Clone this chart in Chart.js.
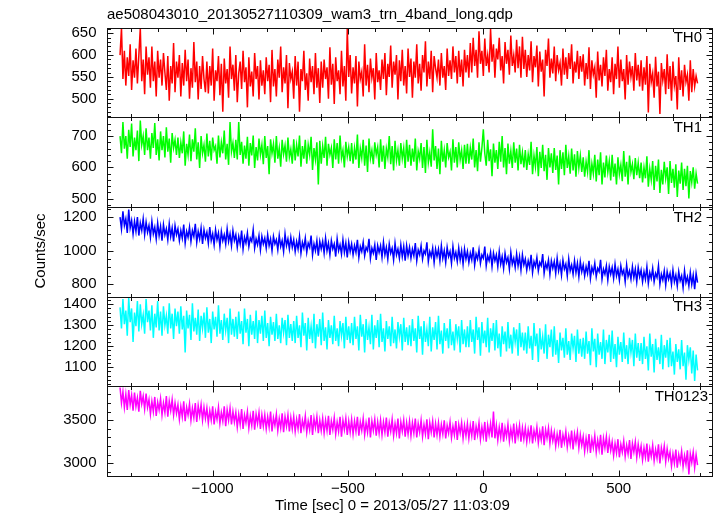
<!DOCTYPE html>
<html>
<head>
<meta charset="utf-8">
<style>
  html, body { margin: 0; padding: 0; background: #fff; }
</style>
<script src="https://cdn.jsdelivr.net/npm/chart.js@4.4.1/dist/chart.umd.min.js"></script>
</head>
<body>
<canvas id="lc" width="717" height="516"></canvas>
<script>
// light curve bins: first bin time and bin width (sec)
const T_START = -1342;
const BIN = 5.347;

const th0 = [
  600, 662, 545, 610, 530, 595, 552, 625, 520, 588, 548, 615, 535, 600, 662, 540, 590, 510, 620, 555,
  595, 525, 620, 540, 585, 505, 610, 548, 590, 530, 605, 560, 520, 598, 495, 575, 535, 628, 515, 585,
  548, 600, 505, 582, 530, 612, 540, 590, 500, 570, 525, 630, 538, 585, 498, 575, 522, 598, 545, 515,
  585, 512, 575, 530, 615, 495, 565, 540, 598, 508, 580, 470, 592, 535, 568, 502, 620, 545, 578, 518,
  600, 492, 558, 585, 522, 610, 538, 572, 480, 595, 528, 562, 505, 605, 545, 575, 498, 588, 530, 565,
  510, 595, 540, 578, 492, 612, 528, 568, 505, 590, 548, 620, 515, 572, 535, 600, 478, 582, 545, 562,
  500, 598, 530, 585, 470, 568, 540, 610, 520, 558, 495, 592, 538, 575, 510, 605, 525, 570, 490, 585,
  525, 590, 545, 572, 500, 618, 532, 580, 488, 595, 540, 565, 510, 610, 528, 575, 495, 660, 550, 600,
  512, 572, 535, 598, 482, 585, 545, 562, 505, 625, 530, 578, 515, 592, 548, 570, 498, 605, 538, 565,
  520, 590, 545, 605, 508, 580, 550, 622, 525, 585, 555, 600, 498, 588, 540, 612, 530, 575, 512, 615,
  550, 592, 502, 585, 548, 625, 535, 580, 518, 600, 560, 632, 528, 585, 545, 610, 515, 598, 570, 548,
  590, 530, 605, 548, 575, 520, 615, 552, 588, 545, 620, 560, 598, 535, 610, 550, 590, 528, 612, 560,
  600, 548, 628, 560, 640, 575, 612, 548, 655, 580, 610, 552, 638, 575, 600, 560, 660, 585, 625, 548,
  615, 590, 640, 565, 598, 535, 630, 580, 612, 555, 645, 575, 600, 560, 635, 570, 620, 548, 642, 568,
  612, 550, 600, 565, 632, 538, 598, 572, 622, 528, 608, 562, 590, 505, 612, 575, 638, 548, 592, 558,
  620, 540, 600, 565, 582, 530, 615, 555, 595, 545, 605, 568, 625, 535, 585, 560, 610, 545, 598, 562,
  602, 530, 582, 545, 618, 522, 588, 555, 572, 502, 608, 542, 578, 528, 595, 552, 612, 518, 568, 538,
  595, 510, 580, 545, 620, 525, 590, 540, 568, 498, 600, 532, 585, 550, 575, 518, 605, 542, 578, 528,
  588, 518, 572, 532, 598, 468, 580, 538, 558, 502, 596, 528, 562, 465, 582, 542, 568, 510, 602, 522,
  575, 495, 585, 530, 552, 475, 595, 520, 565, 505, 578, 538, 555, 495, 588, 515, 568, 528, 552, 535
];
const th1 = [
  700, 645, 745, 660, 700, 628, 720, 665, 740, 635, 695, 655, 718, 620, 750, 672, 700, 640, 725, 655,
  695, 628, 710, 662, 742, 640, 690, 622, 715, 655, 700, 632, 728, 650, 692, 615, 710, 662, 688, 640,
  695, 630, 680, 645, 715, 605, 675, 640, 705, 620, 690, 650, 725, 625, 680, 598, 700, 645, 672, 618,
  708, 635, 685, 622, 695, 655, 668, 612, 702, 632, 680, 645, 718, 625, 675, 608, 745, 650, 678, 630,
  688, 625, 745, 640, 682, 612, 670, 628, 698, 605, 678, 638, 702, 598, 665, 622, 692, 640, 672, 610,
  700, 630, 668, 578, 690, 645, 675, 615, 700, 628, 662, 602, 688, 642, 670, 618, 695, 632, 658, 612,
  690, 622, 672, 635, 702, 602, 668, 628, 688, 612, 672, 640, 698, 592, 662, 625, 680, 545, 685, 612,
  668, 630, 698, 605, 675, 640, 662, 598, 690, 625, 678, 612, 702, 630, 655, 600, 682, 635, 665, 620,
  678, 612, 662, 625, 705, 598, 660, 630, 688, 605, 670, 585, 692, 628, 655, 610, 680, 640, 665, 600,
  690, 618, 670, 595, 660, 632, 700, 610, 668, 590, 685, 622, 655, 605, 678, 628, 662, 598, 688, 618,
  672, 605, 660, 618, 692, 590, 652, 628, 678, 598, 665, 582, 688, 615, 648, 602, 722, 622, 668, 595,
  660, 578, 685, 618, 655, 600, 678, 632, 650, 590, 690, 615, 665, 600, 680, 625, 655, 595, 672, 612,
  675, 612, 662, 625, 692, 600, 655, 588, 680, 618, 662, 722, 645, 605, 688, 620, 658, 572, 676, 615,
  655, 595, 682, 618, 700, 600, 662, 578, 676, 612, 652, 598, 680, 615, 660, 590, 672, 610, 648, 600,
  655, 592, 642, 608, 682, 578, 638, 602, 665, 572, 650, 598, 672, 588, 640, 560, 662, 600, 645, 582,
  662, 592, 638, 545, 655, 595, 648, 575, 672, 598, 636, 580, 660, 590, 642, 570, 652, 598, 638, 585,
  632, 570, 618, 585, 655, 560, 612, 580, 640, 555, 625, 575, 648, 545, 615, 568, 638, 585, 620, 558,
  640, 570, 612, 545, 632, 578, 608, 556, 652, 570, 618, 545, 638, 585, 610, 562, 630, 575, 615, 565,
  615, 552, 600, 565, 635, 538, 595, 560, 620, 528, 605, 555, 625, 518, 592, 545, 618, 565, 600, 515,
  620, 550, 595, 535, 610, 505, 590, 548, 615, 528, 595, 540, 605, 500, 588, 552, 600, 532, 580, 548
];
const th2 = [
  1200, 1130, 1235, 1150, 1190, 1105, 1245, 1135, 1180, 1100, 1175, 1115, 1200, 1090, 1165, 1120, 1190, 1095, 1170, 1110,
  1150, 1080, 1175, 1100, 1140, 1070, 1165, 1090, 1145, 1060, 1155, 1095, 1130, 1065, 1160, 1085, 1135, 1055, 1150, 1095,
  1130, 1060, 1120, 1075, 1155, 1045, 1115, 1080, 1140, 1055, 1120, 1085, 1160, 1050, 1115, 1070, 1135, 1040, 1125, 1075,
  1110, 1045, 1140, 1060, 1100, 1035, 1125, 1065, 1105, 1025, 1115, 1060, 1095, 1040, 1130, 1055, 1100, 1030, 1120, 1060,
  1095, 1020, 1085, 1040, 1120, 1010, 1080, 1045, 1105, 1025, 1075, 1055, 1125, 1015, 1070, 1035, 1090, 1005, 1085, 1040,
  1075, 1015, 1095, 1030, 1070, 1000, 1085, 1040, 1065, 1005, 1090, 1025, 1060, 995, 1100, 1030, 1070, 1010, 1080, 1020,
  1065, 995, 1055, 1010, 1085, 985, 1050, 1015, 1075, 990, 1045, 1020, 1090, 975, 1040, 1000, 1060, 970, 1055, 1010,
  1055, 985, 1075, 1000, 1045, 975, 1060, 1010, 1040, 965, 1070, 1000, 1035, 980, 1065, 990, 1045, 960, 1050, 995,
  1040, 975, 1030, 990, 1065, 960, 1025, 995, 1050, 970, 1020, 1000, 1070, 955, 1015, 985, 1035, 945, 1030, 990,
  1030, 960, 1050, 975, 1020, 950, 1040, 985, 1015, 945, 1045, 975, 1010, 955, 1035, 965, 1025, 940, 1030, 970,
  1020, 955, 1010, 970, 1045, 940, 1005, 975, 1030, 950, 1000, 980, 1050, 935, 995, 965, 1015, 930, 1010, 965,
  1010, 940, 1030, 955, 1000, 930, 1020, 965, 995, 925, 1025, 955, 990, 935, 1015, 945, 1000, 920, 1010, 950,
  995, 930, 985, 945, 1020, 915, 980, 950, 1005, 925, 975, 955, 1025, 910, 970, 940, 990, 905, 985, 940,
  975, 905, 995, 920, 965, 895, 985, 930, 960, 890, 990, 920, 955, 900, 980, 910, 965, 885, 975, 915,
  950, 885, 940, 900, 975, 870, 935, 905, 960, 880, 930, 910, 980, 865, 925, 895, 945, 860, 940, 895,
  935, 865, 955, 880, 925, 855, 945, 890, 920, 850, 950, 880, 915, 860, 940, 870, 925, 845, 935, 875,
  915, 850, 905, 865, 940, 835, 900, 870, 925, 845, 895, 875, 945, 830, 890, 860, 910, 825, 905, 860,
  900, 835, 920, 850, 890, 825, 910, 860, 885, 815, 915, 845, 880, 830, 905, 840, 890, 815, 900, 845,
  885, 815, 875, 830, 905, 805, 870, 835, 895, 815, 865, 840, 910, 800, 860, 825, 880, 795, 875, 830,
  865, 800, 885, 815, 855, 790, 875, 820, 850, 780, 880, 810, 845, 790, 870, 800, 855, 770, 865, 810
];
const th3 = [
  1385, 1285, 1425, 1305, 1370, 1250, 1430, 1315, 1380, 1220, 1360, 1295, 1415, 1270, 1400, 1305, 1350, 1260, 1425, 1315,
  1370, 1275, 1395, 1240, 1355, 1290, 1415, 1275, 1365, 1250, 1390, 1300, 1345, 1260, 1405, 1285, 1355, 1235, 1380, 1295,
  1365, 1260, 1390, 1280, 1345, 1170, 1370, 1285, 1350, 1230, 1405, 1270, 1335, 1255, 1375, 1225, 1345, 1285, 1360, 1240,
  1385, 1265, 1330, 1215, 1365, 1280, 1340, 1245, 1395, 1260, 1325, 1230, 1355, 1275, 1335, 1215, 1380, 1255, 1330, 1245,
  1340, 1235, 1365, 1260, 1320, 1210, 1380, 1265, 1330, 1200, 1350, 1255, 1320, 1235, 1370, 1215, 1325, 1260, 1345, 1225,
  1370, 1240, 1310, 1200, 1340, 1255, 1315, 1225, 1355, 1235, 1300, 1215, 1335, 1265, 1325, 1205, 1350, 1240, 1305, 1225,
  1320, 1215, 1345, 1240, 1300, 1195, 1360, 1250, 1310, 1180, 1335, 1235, 1295, 1215, 1355, 1190, 1305, 1245, 1330, 1205,
  1360, 1225, 1290, 1185, 1325, 1240, 1300, 1210, 1345, 1225, 1285, 1200, 1320, 1250, 1310, 1190, 1340, 1230, 1295, 1215,
  1310, 1205, 1340, 1235, 1295, 1180, 1350, 1245, 1305, 1170, 1330, 1230, 1290, 1210, 1350, 1185, 1300, 1240, 1325, 1195,
  1355, 1220, 1285, 1175, 1320, 1235, 1295, 1200, 1340, 1215, 1280, 1190, 1315, 1245, 1305, 1180, 1335, 1220, 1290, 1205,
  1300, 1200, 1330, 1225, 1285, 1170, 1345, 1235, 1295, 1160, 1320, 1220, 1280, 1200, 1340, 1175, 1290, 1230, 1315, 1185,
  1345, 1210, 1275, 1165, 1310, 1225, 1285, 1190, 1330, 1205, 1270, 1180, 1305, 1235, 1295, 1170, 1325, 1210, 1280, 1195,
  1295, 1195, 1325, 1220, 1280, 1165, 1340, 1230, 1290, 1155, 1315, 1215, 1275, 1195, 1335, 1170, 1285, 1225, 1310, 1180,
  1325, 1190, 1260, 1150, 1295, 1210, 1270, 1175, 1315, 1190, 1255, 1165, 1290, 1220, 1280, 1155, 1310, 1195, 1265, 1180,
  1265, 1165, 1295, 1190, 1250, 1135, 1310, 1200, 1260, 1125, 1285, 1185, 1245, 1165, 1305, 1140, 1255, 1195, 1280, 1150,
  1295, 1160, 1230, 1120, 1265, 1180, 1240, 1145, 1285, 1160, 1225, 1135, 1260, 1190, 1250, 1125, 1280, 1165, 1235, 1150,
  1240, 1140, 1270, 1165, 1225, 1110, 1285, 1175, 1235, 1100, 1260, 1160, 1220, 1140, 1280, 1115, 1230, 1170, 1255, 1125,
  1275, 1140, 1210, 1100, 1245, 1160, 1220, 1125, 1265, 1140, 1205, 1115, 1240, 1170, 1230, 1105, 1260, 1145, 1215, 1130,
  1215, 1115, 1245, 1140, 1200, 1085, 1260, 1150, 1210, 1075, 1235, 1135, 1195, 1115, 1255, 1090, 1205, 1145, 1230, 1100,
  1240, 1105, 1175, 1065, 1210, 1125, 1185, 1090, 1230, 1105, 1170, 1040, 1205, 1135, 1195, 1070, 1180, 1035, 1160, 1085
];
const th0123 = [
  3880, 3700, 3830, 3650, 3800, 3620, 3850, 3680, 3790, 3610, 3820, 3660, 3760, 3600, 3840, 3690, 3780, 3630, 3810, 3650,
  3740, 3570, 3720, 3600, 3770, 3550, 3710, 3620, 3750, 3560, 3700, 3590, 3780, 3540, 3720, 3610, 3740, 3560, 3700, 3580,
  3680, 3510, 3660, 3540, 3720, 3490, 3650, 3560, 3690, 3500, 3640, 3530, 3700, 3480, 3670, 3550, 3680, 3500, 3650, 3520,
  3640, 3470, 3610, 3500, 3660, 3450, 3600, 3510, 3650, 3460, 3590, 3490, 3660, 3430, 3620, 3500, 3640, 3450, 3600, 3480,
  3590, 3420, 3570, 3450, 3630, 3400, 3560, 3470, 3600, 3410, 3550, 3440, 3610, 3390, 3570, 3460, 3590, 3400, 3560, 3430,
  3560, 3400, 3540, 3420, 3600, 3370, 3530, 3440, 3570, 3380, 3520, 3410, 3580, 3360, 3540, 3430, 3560, 3370, 3530, 3400,
  3540, 3370, 3510, 3400, 3570, 3350, 3500, 3410, 3550, 3360, 3490, 3390, 3560, 3330, 3520, 3410, 3540, 3350, 3500, 3380,
  3520, 3350, 3500, 3380, 3550, 3330, 3490, 3390, 3530, 3340, 3480, 3370, 3540, 3310, 3500, 3390, 3520, 3330, 3490, 3360,
  3510, 3340, 3490, 3370, 3540, 3320, 3480, 3380, 3520, 3330, 3470, 3360, 3530, 3300, 3490, 3380, 3510, 3320, 3480, 3350,
  3500, 3330, 3480, 3360, 3530, 3310, 3470, 3370, 3510, 3320, 3460, 3350, 3520, 3290, 3480, 3370, 3500, 3310, 3470, 3340,
  3490, 3320, 3470, 3350, 3520, 3300, 3460, 3360, 3500, 3310, 3450, 3340, 3510, 3280, 3470, 3360, 3490, 3300, 3460, 3330,
  3470, 3310, 3450, 3340, 3500, 3290, 3440, 3350, 3480, 3300, 3430, 3330, 3490, 3270, 3450, 3350, 3470, 3290, 3440, 3320,
  3460, 3290, 3440, 3320, 3490, 3270, 3430, 3330, 3470, 3280, 3420, 3310, 3480, 3250, 3440, 3330, 3460, 3300, 3600, 3290,
  3440, 3270, 3420, 3300, 3470, 3250, 3410, 3310, 3450, 3260, 3400, 3290, 3460, 3230, 3420, 3310, 3440, 3250, 3410, 3280,
  3410, 3250, 3390, 3280, 3440, 3230, 3380, 3290, 3420, 3240, 3370, 3270, 3430, 3210, 3390, 3290, 3410, 3230, 3380, 3260,
  3360, 3200, 3340, 3230, 3390, 3180, 3330, 3240, 3370, 3190, 3320, 3220, 3380, 3160, 3340, 3240, 3360, 3180, 3330, 3210,
  3310, 3140, 3290, 3170, 3340, 3120, 3280, 3180, 3320, 3130, 3270, 3160, 3330, 3100, 3290, 3180, 3310, 3120, 3280, 3150,
  3250, 3090, 3230, 3120, 3280, 3070, 3220, 3130, 3260, 3080, 3210, 3110, 3270, 3050, 3230, 3130, 3250, 3070, 3220, 3100,
  3200, 3040, 3180, 3070, 3230, 3020, 3170, 3080, 3210, 3030, 3160, 3060, 3220, 3000, 3180, 3080, 3200, 3020, 3170, 3050,
  3130, 2970, 3110, 3000, 3160, 2950, 3100, 3010, 3140, 2960, 3090, 2990, 3150, 2870, 3110, 3010, 3130, 2950, 3100, 2980
];

const PANELS = ["TH0", "TH1", "TH2", "TH3", "TH0123"];
const SERIES = [th0, th1, th2, th3, th0123];
const COLORS = ["#ff0000", "#00ff00", "#0000ff", "#00ffff", "#ff00ff"];
const Y_MIN = [457, 473, 726, 1009, 2853];
const Y_MAX = [663, 760, 1260, 1436, 3893];
const Y_TICKS = [
  [500, 550, 600, 650],
  [500, 600, 700],
  [800, 1000, 1200],
  [1100, 1200, 1300, 1400],
  [3000, 3500]
];
const Y_STEP = [50, 100, 200, 100, 500];
const Y_MINOR = [10, 20, 50, 20, 100];
const X_MIN = -1392, X_MAX = 843;
const X_TICKS = [-1000, -500, 0, 500];
const X_STEP = 500, X_MINOR = 100;

const TITLE = "ae508043010_20130527110309_wam3_trn_4band_long.qdp";
const X_TITLE = "Time [sec] 0 = 2013/05/27 11:03:09";
const Y_TITLE = "Counts/sec";

const FONT = '"Liberation Sans", Arial, sans-serif';
const LABEL_INSET = [9.5, 9.5, 9.5, 9.5, 3.5];

function minusFmt(v) {
    return v < 0 ? "\u2212" + Math.abs(v) : String(v);
}

function line(ctx, x1, y1, x2, y2) {
    ctx.beginPath();
    ctx.moveTo(x1, y1);
    ctx.lineTo(x2, y2);
    ctx.stroke();
}

// frame, inward ticks, panel names and titles (qdp style)
const qdpFrame = {
    id: "qdpFrame",
    afterDraw(chart) {
        const ctx = chart.ctx;
        const xs = chart.scales.x;
        const left = Math.round(chart.chartArea.left) + 0.5;
        const right = Math.round(chart.chartArea.right) + 0.5;
        ctx.save();
        ctx.strokeStyle = "#111";
        ctx.lineWidth = 1;
        PANELS.forEach((name, i) => {
            const ys = chart.scales["y" + i];
            const top = Math.round(ys.top) + 0.5;
            const bottom = Math.round(ys.bottom) + 0.5;
            ctx.strokeRect(left, top, right - left, bottom - top);

            for (let v = Math.ceil(ys.min / Y_MINOR[i]) * Y_MINOR[i]; v <= ys.max; v += Y_MINOR[i]) {
                const py = Math.round(ys.getPixelForValue(v)) + 0.5;
                const len = v % Y_STEP[i] === 0 ? 6 : 3.5;
                line(ctx, left, py, left + len, py);
                line(ctx, right, py, right - len, py);
            }
            for (let v = Math.ceil(xs.min / X_MINOR) * X_MINOR; v <= xs.max; v += X_MINOR) {
                const px = Math.round(xs.getPixelForValue(v)) + 0.5;
                const len = v % X_STEP === 0 ? 6 : 3.5;
                line(ctx, px, top, px, top + len);
                line(ctx, px, bottom, px, bottom - len);
            }

            ctx.fillStyle = "#000";
            ctx.font = "15px " + FONT;
            ctx.textAlign = "right";
            ctx.textBaseline = "middle";
            ctx.fillText(name, chart.chartArea.right - LABEL_INSET[i], ys.top + 10.5);
        });

        ctx.fillStyle = "#000";
        ctx.font = "15px " + FONT;
        ctx.textAlign = "left";
        ctx.textBaseline = "middle";
        ctx.fillText(TITLE, 107, 15);
        ctx.fillText(X_TITLE, 275, 506);

        ctx.translate(41, 251);
        ctx.rotate(-Math.PI / 2);
        ctx.textAlign = "center";
        ctx.fillText(Y_TITLE, 0, 0);
        ctx.restore();
    }
};

const scales = {
    x: {
        type: "linear",
        min: X_MIN,
        max: X_MAX,
        grid: { display: false, drawTicks: false },
        border: { display: false },
        afterBuildTicks: (s) => { s.ticks = X_TICKS.map(v => ({ value: v })); },
        ticks: {
            autoSkip: false,
            maxRotation: 0,
            padding: 4,
            color: "#000",
            font: { family: FONT, size: 15 },
            callback: minusFmt
        },
        afterFit: (s) => { s.height = 40; }
    }
};

PANELS.forEach((name, i) => {
    scales["y" + i] = {
        type: "linear",
        position: "left",
        stack: "panels",
        stackWeight: 1,
        weight: PANELS.length - i,
        min: Y_MIN[i],
        max: Y_MAX[i],
        grid: { display: false, drawTicks: false },
        border: { display: false },
        afterBuildTicks: (s) => { s.ticks = Y_TICKS[i].map(v => ({ value: v })); },
        ticks: {
            autoSkip: false,
            padding: 10,
            color: "#000",
            font: { family: FONT, size: 15 },
            callback: minusFmt
        },
        afterFit: (s) => { s.width = 106.5; }
    };
});

const datasets = SERIES.map((vals, i) => ({
    label: PANELS[i],
    yAxisID: "y" + i,
    data: vals.map((v, k) => ({ x: T_START + k * BIN, y: v })),
    borderColor: COLORS[i],
    borderWidth: 1.5,
    pointRadius: 0,
    tension: 0,
    fill: false
}));

const chart = new Chart(document.getElementById("lc"), {
    type: "line",
    data: { datasets: datasets },
    options: {
        responsive: false,
        animation: false,
        devicePixelRatio: 1,
        layout: { padding: { top: 27.7, right: 5.5, left: 0, bottom: 0 } },
        scales: scales,
        plugins: {
            legend: { display: false },
            tooltip: { enabled: false }
        }
    },
    plugins: [qdpFrame]
});
</script>
</body>
</html>
